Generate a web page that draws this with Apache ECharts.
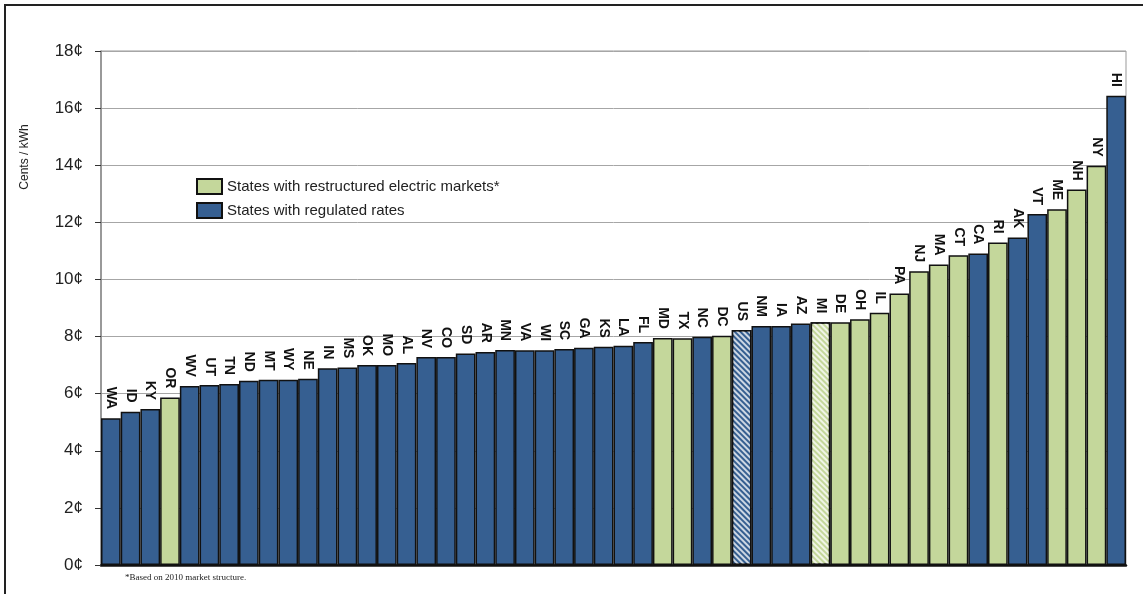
<!DOCTYPE html>
<html>
<head>
<meta charset="utf-8">
<script src="https://cdn.jsdelivr.net/npm/echarts@6/dist/echarts.min.js"></script>
<style>
  html, body { margin: 0; padding: 0; background: #fff; }
  #chart { width: 1143px; height: 594px; }
</style>
</head>
<body>
<div id="chart"></div>
<script>
// states sorted by average retail price (cents / kWh)
const states = ['WA', 'ID', 'KY', 'OR', 'WV', 'UT', 'TN', 'ND', 'MT', 'WY', 'NE', 'IN', 'MS', 'OK', 'MO', 'AL',
  'NV', 'CO', 'SD', 'AR', 'MN', 'VA', 'WI', 'SC', 'GA', 'KS', 'LA', 'FL', 'MD', 'TX', 'NC', 'DC', 'US',
  'NM', 'IA', 'AZ', 'MI', 'DE', 'OH', 'IL', 'PA', 'NJ', 'MA', 'CT', 'CA', 'RI', 'AK', 'VT', 'ME', 'NH', 'NY', 'HI'];
const prices = [5.14, 5.37, 5.46, 5.87, 6.27, 6.30, 6.34, 6.45, 6.49, 6.49, 6.52, 6.89, 6.92, 7.00, 7.00, 7.07,
  7.28, 7.28, 7.41, 7.46, 7.53, 7.52, 7.52, 7.56, 7.61, 7.64, 7.68, 7.81, 7.95, 7.94, 7.99, 8.03, 8.23,
  8.37, 8.37, 8.46, 8.50, 8.50, 8.61, 8.83, 9.51, 10.29, 10.52, 10.85, 10.91, 11.29, 11.47, 12.29, 12.46, 13.15, 13.98, 16.43];
// states with restructured electric markets (2010)
const restructured = ['OR', 'MD', 'TX', 'DC', 'MI', 'DE', 'OH', 'IL', 'PA', 'NJ', 'MA', 'CT', 'RI', 'ME', 'NH', 'NY'];
// hatched bars
const hatched = ['US', 'MI'];
const yTicks = [0, 2, 4, 6, 8, 10, 12, 14, 16, 18];

const green = '#c4d79b';
const blue = '#365f91';

const hatchDecal = {
  symbol: 'rect',
  symbolSize: 1,
  dashArrayX: [1, 0],
  dashArrayY: [1.5, 2],
  rotation: Math.PI / 4,
  color: 'rgba(255,255,255,0.75)'
};

const buildData = (isGreen) => states.map((s, i) => {
  const inGroup = restructured.includes(s) === isGreen;
  if (!inGroup) return '-';
  if (hatched.includes(s)) {
    return { value: prices[i], itemStyle: { decal: hatchDecal } };
  }
  return prices[i];
});

const labelOpt = {
  show: true,
  position: 'top',
  distance: 9,
  rotate: -90,
  align: 'right',
  verticalAlign: 'middle',
  formatter: p => p.name,
  fontFamily: 'Liberation Sans, Arial, sans-serif',
  fontWeight: 'bold',
  fontSize: 14,
  color: '#111'
};

const chart = echarts.init(document.getElementById('chart'));

chart.setOption({
  animation: false,
  grid: {
    left: 101,
    right: 17,
    top: 51,
    bottom: 29,
    show: true,
    borderColor: '#999',
    borderWidth: 1
  },
  legend: {
    orient: 'vertical',
    left: 191,
    top: 173,
    icon: 'rect',
    itemWidth: 25,
    itemHeight: 15,
    itemGap: 7,
    textStyle: {
      fontFamily: 'Liberation Sans, Arial, sans-serif',
      fontSize: 15,
      color: '#222'
    },
    data: ['States with restructured electric markets*', 'States with regulated rates']
  },
  xAxis: {
    type: 'category',
    data: states,
    axisLabel: { show: false },
    axisTick: { show: false },
    axisLine: { lineStyle: { color: '#111', width: 2.5 } }
  },
  yAxis: {
    type: 'value',
    min: yTicks[0],
    max: yTicks[yTicks.length - 1],
    interval: 2,
    axisLine: { show: true, lineStyle: { color: '#888', width: 1.5 } },
    axisTick: { show: true, length: 6, lineStyle: { color: '#333', width: 1 } },
    splitLine: { lineStyle: { color: '#a6a6a6', width: 1 } },
    axisLabel: {
      margin: 18,
      formatter: '{value}¢',
      fontFamily: 'Liberation Sans, Arial, sans-serif',
      fontSize: 17,
      color: '#222'
    }
  },
  series: [
    {
      name: 'States with restructured electric markets*',
      type: 'bar',
      barGap: '-100%',
      barCategoryGap: '0%',
      data: buildData(true),
      itemStyle: { color: green, borderColor: '#111', borderWidth: 1.5 },
      label: labelOpt
    },
    {
      name: 'States with regulated rates',
      type: 'bar',
      barGap: '-100%',
      barCategoryGap: '0%',
      data: buildData(false),
      itemStyle: { color: blue, borderColor: '#111', borderWidth: 1.5 },
      label: labelOpt
    }
  ],
  graphic: [
    {
      type: 'polyline',
      shape: { points: [[5, 594], [5, 5], [1143, 5]] },
      style: { stroke: '#222', lineWidth: 2, fill: null }
    },
    {
      type: 'text',
      x: 25,
      y: 157,
      rotation: Math.PI / 2,
      style: {
        text: 'Cents / kWh',
        fontFamily: 'Liberation Sans, Arial, sans-serif',
        fontSize: 12,
        fill: '#222',
        align: 'center',
        verticalAlign: 'middle'
      }
    },
    {
      type: 'text',
      left: 125,
      top: 573,
      style: {
        text: '*Based on 2010 market structure.',
        fontFamily: 'Liberation Serif, Times New Roman, serif',
        fontSize: 9,
        fill: '#222'
      }
    }
  ]
});
</script>
</body>
</html>
